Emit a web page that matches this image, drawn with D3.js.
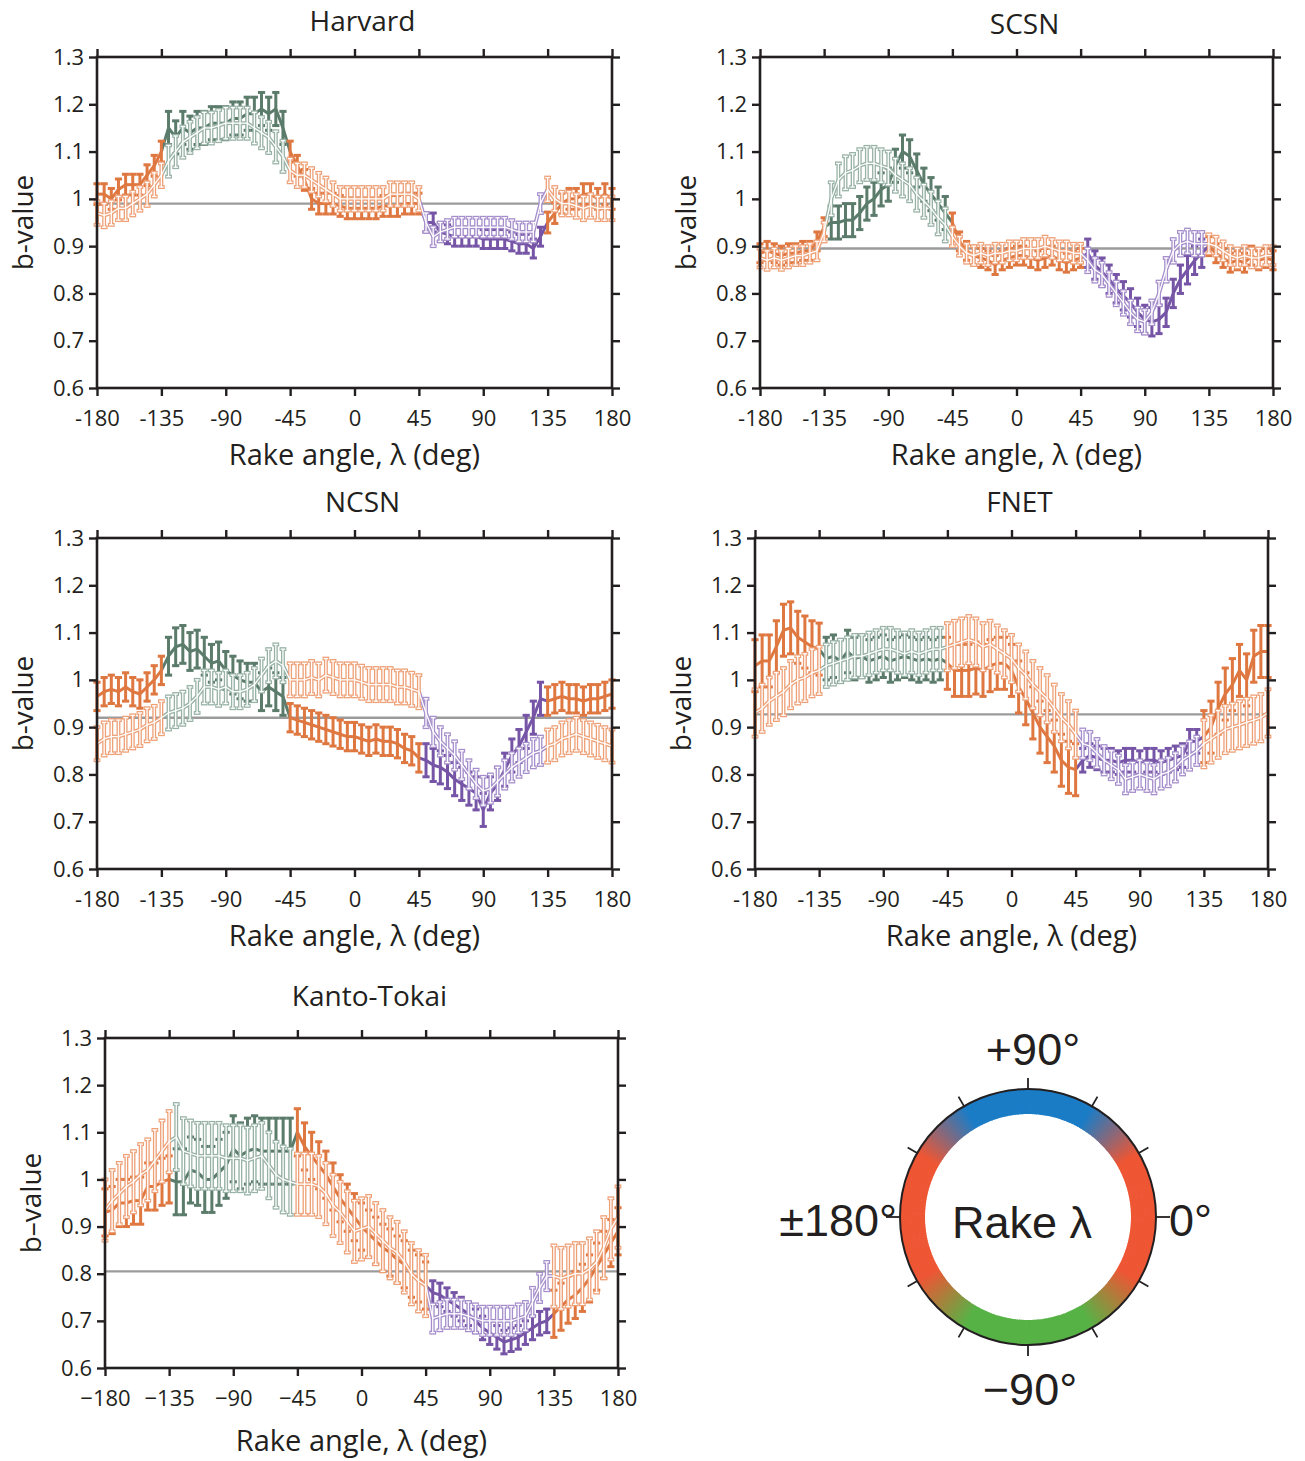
<!DOCTYPE html>
<html>
<head>
<meta charset="utf-8">
<script src="https://cdn.jsdelivr.net/npm/d3@7"></script>
<style>
body{margin:0;background:#fff}
svg text{fill:#231f20}
</style>
</head>
<body>
<svg id="chart" width="1305" height="1461"></svg>
<script>
// rake angle categories, one every 5 degrees
const rakes = [
  -180,-175,-170,-165,-160,-155,-150,-145,-140,
  -135,-130,-125,-120,-115,-110,-105,-100,-95,
  -90,-85,-80,-75,-70,-65,-60,-55,-50,
  -45,-40,-35,-30,-25,-20,-15,-10,-5,
  0,5,10,15,20,25,30,35,40,
  45,50,55,60,65,70,75,80,85,
  90,95,100,105,110,115,120,125,130,
  135,140,145,150,155,160,165,170,175,
  180
]

const xTicks = [-180,-135,-90,-45,0,45,90,135,180]
const bTicks = [0.6,0.7,0.8,0.9,1,1.1,1.2,1.3]

// b-values (dark = thick series, light = open series)
const harvardDark = [
  1.01,1.01,1.00,1.02,1.03,1.03,1.03,1.05,1.07,
  1.10,1.15,1.13,1.15,1.14,1.15,1.15,1.16,1.16,
  1.16,1.17,1.17,1.18,1.18,1.19,1.18,1.19,1.15,
  1.10,1.07,1.04,1.00,0.99,0.99,0.99,0.985,0.98,
  0.98,0.98,0.98,0.98,0.985,0.985,0.985,0.99,0.99,
  0.99,0.95,0.95,0.93,0.925,0.92,0.92,0.92,0.92,
  0.915,0.915,0.915,0.915,0.91,0.905,0.905,0.895,0.92,
  0.95,0.97,0.99,1.00,1.00,1.01,1.01,1.00,1.01,
  1.00
]
const harvardLight = [
  0.97,0.965,0.97,0.98,0.98,0.99,1.00,1.01,1.03,
  1.05,1.08,1.10,1.12,1.13,1.14,1.15,1.15,1.155,
  1.16,1.16,1.16,1.16,1.15,1.14,1.13,1.11,1.09,
  1.06,1.05,1.05,1.04,1.03,1.02,1.01,1.00,1.00,
  1.00,1.00,1.00,1.00,1.00,1.01,1.01,1.01,1.01,
  1.00,0.95,0.92,0.93,0.935,0.94,0.94,0.94,0.94,
  0.94,0.94,0.94,0.94,0.935,0.93,0.93,0.93,0.99,
  1.02,1.00,0.99,0.99,0.985,0.98,0.985,0.98,0.98,
  0.98
]
const scsnDark = [
  0.885,0.89,0.885,0.88,0.885,0.885,0.89,0.89,0.91,
  0.94,0.95,0.95,0.955,0.955,0.97,0.99,1.00,1.02,
  1.03,1.07,1.10,1.09,1.06,1.03,1.01,0.99,0.97,
  0.95,0.91,0.89,0.88,0.875,0.87,0.86,0.87,0.875,
  0.88,0.88,0.875,0.87,0.875,0.88,0.87,0.865,0.87,
  0.875,0.885,0.86,0.845,0.83,0.81,0.795,0.78,0.76,
  0.745,0.74,0.745,0.76,0.80,0.83,0.85,0.87,0.885,
  0.90,0.885,0.875,0.865,0.87,0.865,0.88,0.87,0.875,
  0.87
]
const scsnLight = [
  0.875,0.87,0.875,0.87,0.875,0.88,0.88,0.885,0.89,
  0.93,1.00,1.04,1.055,1.06,1.07,1.075,1.075,1.07,
  1.065,1.05,1.04,1.03,1.01,0.995,0.98,0.96,0.945,
  0.92,0.90,0.885,0.88,0.885,0.88,0.885,0.885,0.89,
  0.89,0.895,0.895,0.895,0.90,0.895,0.89,0.89,0.885,
  0.885,0.87,0.85,0.84,0.82,0.80,0.78,0.76,0.745,
  0.74,0.76,0.80,0.85,0.89,0.905,0.91,0.905,0.905,
  0.905,0.90,0.89,0.88,0.875,0.88,0.875,0.875,0.88,
  0.88
]
const ncsnDark = [
  0.965,0.975,0.98,0.975,0.985,0.975,0.97,0.985,1.00,
  1.02,1.05,1.07,1.075,1.06,1.065,1.05,1.035,1.04,
  1.02,1.01,1.00,0.995,0.995,0.975,0.985,0.975,0.965,
  0.92,0.915,0.91,0.905,0.90,0.895,0.89,0.885,0.88,
  0.88,0.875,0.87,0.875,0.87,0.87,0.865,0.855,0.85,
  0.835,0.83,0.82,0.815,0.805,0.79,0.78,0.77,0.76,
  0.725,0.76,0.78,0.81,0.84,0.86,0.89,0.92,0.96,
  0.955,0.96,0.965,0.96,0.96,0.955,0.96,0.96,0.965,
  0.97
]
const ncsnLight = [
  0.865,0.875,0.88,0.88,0.885,0.89,0.895,0.905,0.91,
  0.92,0.93,0.935,0.94,0.95,0.965,0.985,0.985,0.98,
  0.985,0.975,0.975,0.98,0.99,1.01,1.03,1.04,1.03,
  1.00,1.00,1.00,1.005,1.00,1.01,1.005,1.00,1.00,
  1.00,0.995,0.99,0.99,0.99,0.99,0.985,0.985,0.98,
  0.975,0.93,0.89,0.87,0.855,0.84,0.82,0.80,0.78,
  0.765,0.77,0.785,0.80,0.815,0.825,0.835,0.845,0.85,
  0.86,0.865,0.875,0.88,0.885,0.88,0.875,0.87,0.865,
  0.86
]
const fnetDark = [
  1.03,1.04,1.04,1.07,1.105,1.11,1.09,1.08,1.07,
  1.065,1.045,1.05,1.04,1.06,1.045,1.05,1.04,1.045,
  1.05,1.04,1.045,1.05,1.045,1.04,1.045,1.04,1.045,
  1.035,1.02,1.02,1.02,1.025,1.02,1.03,1.035,1.035,
  1.02,0.985,0.96,0.93,0.90,0.88,0.86,0.83,0.815,
  0.81,0.83,0.84,0.835,0.83,0.83,0.825,0.83,0.83,
  0.825,0.83,0.83,0.825,0.83,0.835,0.84,0.87,0.87,
  0.88,0.90,0.94,0.97,0.99,1.02,1.00,1.05,1.06,
  1.06
]
const fnetLight = [
  0.93,0.94,0.955,0.965,0.975,0.99,1.00,1.005,1.015,
  1.02,1.03,1.035,1.04,1.045,1.05,1.05,1.055,1.06,
  1.065,1.065,1.06,1.055,1.06,1.055,1.06,1.065,1.065,
  1.07,1.075,1.08,1.085,1.08,1.07,1.075,1.065,1.055,
  1.045,1.025,1.01,0.99,0.975,0.96,0.94,0.92,0.905,
  0.885,0.865,0.86,0.845,0.83,0.82,0.81,0.79,0.795,
  0.80,0.795,0.79,0.80,0.805,0.815,0.83,0.84,0.85,
  0.865,0.875,0.885,0.895,0.90,0.905,0.91,0.915,0.92,
  0.93
]
const kantoDark = [
  0.93,0.935,0.95,0.95,0.955,0.955,0.985,0.985,0.995,
  1.00,0.995,0.995,1.02,1.015,1.00,1.00,1.015,1.03,
  1.065,1.05,1.06,1.065,1.06,1.06,1.06,1.06,1.06,
  1.10,1.07,1.05,1.03,1.01,0.985,0.96,0.94,0.92,
  0.90,0.885,0.87,0.855,0.845,0.83,0.82,0.80,0.79,
  0.775,0.76,0.755,0.745,0.735,0.725,0.715,0.70,0.685,
  0.675,0.665,0.655,0.66,0.665,0.675,0.685,0.695,0.70,
  0.715,0.73,0.745,0.755,0.77,0.79,0.815,0.84,0.865,
  0.89
]
const kantoLight = [
  0.935,0.955,0.97,0.985,0.995,1.01,1.02,1.04,1.06,
  1.08,1.09,1.06,1.055,1.05,1.05,1.05,1.05,1.045,
  1.045,1.045,1.04,1.045,1.05,1.03,1.01,1.00,0.995,
  0.99,0.99,0.99,0.985,0.97,0.945,0.93,0.91,0.89,
  0.895,0.90,0.885,0.87,0.855,0.845,0.825,0.80,0.785,
  0.775,0.705,0.71,0.715,0.715,0.715,0.71,0.705,0.70,
  0.70,0.70,0.70,0.70,0.705,0.71,0.74,0.77,0.795,
  0.795,0.79,0.795,0.80,0.80,0.81,0.825,0.855,0.895,
  0.92
]

// overall b-value of each catalogue (grey line)
const refB = [0.99, 0.895, 0.92, 0.927, 0.805]

// error half-widths per rake class: [strike-slip, normal, thrust]
const harvardErrDark = [0.022,0.035,0.02], harvardErrLight = [0.025,0.033,0.02]
const scsnErrDark = [0.02,0.035,0.03], scsnErrLight = [0.02,0.035,0.025]
const ncsnErrDark = [0.03,0.04,0.035], ncsnErrLight = [0.035,0.035,0.03]
const fnetErrDark = [0.055,0.045,0.025], fnetErrLight = [0.05,0.045,0.03]
const kantoErrDark = [0.05,0.07,0.025], kantoErrLight = [0.065,0.07,0.03]

const darkCols = ['#df7741','#5b7b6b','#7655a6']
const lightCols = ['#eea077','#98b2a6','#a58ecb']
const ink = '#231f20'
const font = '"Open Sans", sans-serif'

const panels = [
  {title:'Harvard', ty:31, dark:harvardDark, light:harvardLight, ref:refB[0], eD:harvardErrDark, eL:harvardErrLight,
   x0:97, x1:612, y0:57, y1:388, minus:'-', ylab:'b-value'},
  {title:'SCSN', ty:34, dark:scsnDark, light:scsnLight, ref:refB[1], eD:scsnErrDark, eL:scsnErrLight,
   x0:760, x1:1273, y0:57, y1:388, minus:'-', ylab:'b-value'},
  {title:'NCSN', ty:512, dark:ncsnDark, light:ncsnLight, ref:refB[2], eD:ncsnErrDark, eL:ncsnErrLight,
   x0:97, x1:612, y0:538, y1:869, minus:'-', ylab:'b-value'},
  {title:'FNET', ty:512, dark:fnetDark, light:fnetLight, ref:refB[3], eD:fnetErrDark, eL:fnetErrLight,
   x0:755, x1:1268, y0:538, y1:869, minus:'-', ylab:'b-value'},
  {title:'Kanto-Tokai', ty:1006, dark:kantoDark, light:kantoLight, ref:refB[4], eD:kantoErrDark, eL:kantoErrLight,
   x0:105, x1:618, y0:1038, y1:1368, minus:'\u2212', ylab:'b\u2013value'}
]

const svg = d3.select('#chart')

// 0 strike-slip, 1 normal, 2 thrust
const rakeClass = r => (r > -135 && r < -45) ? 1 : (r > 45 && r < 135) ? 2 : 0

const drawSeries = (g, x, y, vals, errs, cols, open) => {
  let pts = rakes.map((r, i) => ({r: r, v: vals[i], c: rakeClass(r)}))
  let segs = pts.slice(1).map((p, i) => ({a: pts[i], b: p, c: rakeClass((pts[i].r + p.r) / 2)}))

  const layer = (stroke, w, capW) => {
    let s = g.append('g')
    s.selectAll('line.seg')
    .data(segs)
    .enter()
    .append('line')
    .attr('x1', d => x(d.a.r)).attr('y1', d => y(d.a.v))
    .attr('x2', d => x(d.b.r)).attr('y2', d => y(d.b.v))
    .attr('stroke', d => stroke || cols[d.c])
    .attr('stroke-width', w)

    let bars = s.selectAll('g.bar')
    .data(pts)
    .enter()
    .append('g')
    .attr('stroke', d => stroke || cols[d.c])
    .attr('stroke-width', w)

    bars.append('line')
    .attr('x1', d => x(d.r)).attr('x2', d => x(d.r))
    .attr('y1', d => y(d.v - errs[d.c])).attr('y2', d => y(d.v + errs[d.c]))

    ;[-1, 1].forEach(sg => {
      bars.append('line')
      .attr('x1', d => x(d.r) - capW).attr('x2', d => x(d.r) + capW)
      .attr('y1', d => y(d.v + sg * errs[d.c])).attr('y2', d => y(d.v + sg * errs[d.c]))
    })
  }

  if(open){
    layer(null, 3.9, 3.4)
    layer('#fff', 1.3, 2.3)
  } else {
    layer(null, 3, 3.6)
  }
}

panels.map(p => {

  let x = d3.scaleLinear().domain([-180, 180]).range([p.x0, p.x1])
  let y = d3.scaleLinear().domain([0.6, 1.3]).range([p.y1, p.y0])

  let g = svg.append('g')

  g.append('line')
  .attr('x1', p.x0).attr('x2', p.x1)
  .attr('y1', y(p.ref)).attr('y2', y(p.ref))
  .attr('stroke', '#9b9b9b')
  .attr('stroke-width', 2.4)

  drawSeries(g, x, y, p.dark, p.eD, darkCols, false)
  drawSeries(g, x, y, p.light, p.eL, lightCols, true)

  const styleAxis = a => {
    a.select('.domain').remove()
    a.selectAll('.tick line').attr('stroke', ink).attr('stroke-width', 2.4)
    a.selectAll('.tick text').attr('fill', ink)
    a.attr('font-family', font).attr('font-size', 22)
  }

  g.append('g').attr('transform', `translate(${p.x0},0)`)
  .call(d3.axisLeft(y).tickValues(bTicks).tickSize(8).tickPadding(5).tickFormat(d => String(d)))
  .call(styleAxis)

  g.append('g').attr('transform', `translate(${p.x1},0)`)
  .call(d3.axisRight(y).tickValues(bTicks).tickSize(8).tickFormat(''))
  .call(styleAxis)

  g.append('g').attr('transform', `translate(0,${p.y1})`)
  .call(d3.axisBottom(x).tickValues(xTicks).tickSize(8).tickPadding(14)
    .tickFormat(d => d < 0 ? p.minus + Math.abs(d) : String(d)))
  .call(styleAxis)

  g.append('g').attr('transform', `translate(0,${p.y0})`)
  .call(d3.axisTop(x).tickValues(xTicks).tickSize(8).tickFormat(''))
  .call(styleAxis)

  g.append('rect')
  .attr('x', p.x0).attr('y', p.y0)
  .attr('width', p.x1 - p.x0).attr('height', p.y1 - p.y0)
  .attr('fill', 'none')
  .attr('stroke', ink)
  .attr('stroke-width', 2.6)

  g.append('text')
  .attr('x', (p.x0 + p.x1) / 2 + 8).attr('y', p.ty)
  .attr('text-anchor', 'middle')
  .style('font-family', font).style('font-size', '28px')
  .text(p.title)

  g.append('text')
  .attr('x', (p.x0 + p.x1) / 2).attr('y', p.y1 + (p.title === 'Kanto-Tokai' ? 83 : 77))
  .attr('text-anchor', 'middle')
  .style('font-family', font).style('font-size', '29px')
  .text('Rake angle, \u03bb (deg)')

  g.append('text')
  .attr('transform', `translate(${p.x0 - 64},${(p.y0 + p.y1) / 2}) rotate(-90)`)
  .attr('text-anchor', 'middle')
  .style('font-family', font).style('font-size', '28px')
  .text(p.ylab)
})

// rake colour wheel
const wheel = {cx: 1028, cy: 1217, rOut: 128, rIn: 103}
const wRed = '#ee5634', wBlue = '#1b7cc6', wGreen = '#57b246'

const wheelColor = t => {
  let s = Math.min(Math.abs(t), 180 - Math.abs(t))
  let end = t >= 0 ? wBlue : wGreen
  if(s <= 30) return wRed
  if(s >= 60) return end
  return d3.interpolateRgb(wRed, end)((s - 30) / 30)
}

const arc = d3.arc().innerRadius(wheel.rIn).outerRadius(wheel.rOut)
const lg = svg.append('g').attr('transform', `translate(${wheel.cx},${wheel.cy})`)

lg.selectAll('path')
.data(d3.range(-180, 180, 1))
.enter()
.append('path')
.attr('d', t => arc({startAngle: (90 - t - 1.4) * Math.PI / 180, endAngle: (90 - t) * Math.PI / 180}))
.attr('fill', t => wheelColor(t + 0.5))

lg.append('circle')
.attr('r', wheel.rOut)
.attr('fill', 'none')
.attr('stroke', ink)
.attr('stroke-width', 2)

lg.selectAll('line.wt')
.data(d3.range(-150, 181, 30))
.enter()
.append('line')
.attr('x1', t => wheel.rOut * Math.cos(t * Math.PI / 180))
.attr('y1', t => -wheel.rOut * Math.sin(t * Math.PI / 180))
.attr('x2', t => (wheel.rOut + (t % 180 === 0 ? 14 : 11)) * Math.cos(t * Math.PI / 180))
.attr('y2', t => -(wheel.rOut + (t % 180 === 0 ? 14 : 11)) * Math.sin(t * Math.PI / 180))
.attr('stroke', ink)
.attr('stroke-width', 1.8)

const wfont = '"Liberation Sans", Arial, sans-serif'
const wLabels = [
  {t: '+90\u00b0', x: 5, y: -152, a: 'middle'},
  {t: '\u221290\u00b0', x: 2, y: 188, a: 'middle'},
  {t: '\u00b1180\u00b0', x: -131, y: 19, a: 'end'},
  {t: '0\u00b0', x: 141, y: 19, a: 'start'},
  {t: 'Rake \u03bb', x: -6, y: 21, a: 'middle'}
]

lg.selectAll('text')
.data(wLabels)
.enter()
.append('text')
.attr('x', d => d.x).attr('y', d => d.y)
.attr('text-anchor', d => d.a)
.style('font-family', wfont)
.style('font-size', '45px')
.text(d => d.t)
</script>
</body>
</html>
